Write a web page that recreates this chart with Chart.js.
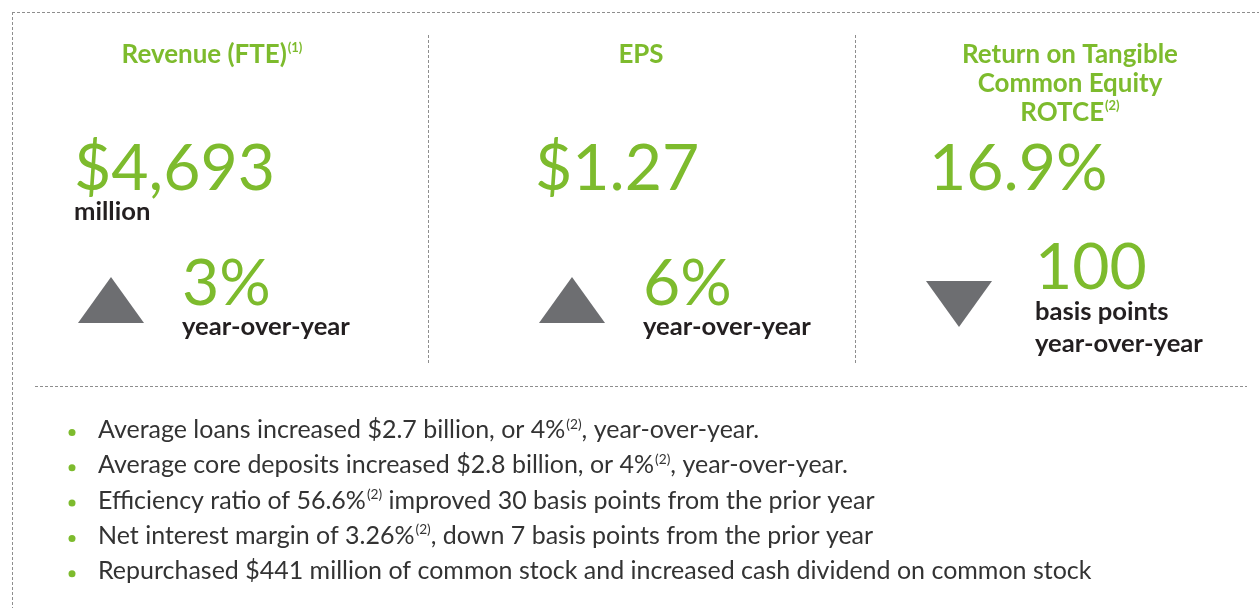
<!DOCTYPE html>
<html>
<head>
<meta charset="utf-8">
<script src="https://cdn.jsdelivr.net/npm/chart.js@4/dist/chart.umd.min.js"></script>
<style>
  html, body { margin: 0; padding: 0; background: #ffffff; }
  #wrap { width: 1259px; height: 608px; }
</style>
</head>
<body>
<div id="wrap"><canvas id="c" width="1259" height="608"></canvas></div>
<script>
// ---------- DATA ----------
const metricTitles = [["Revenue (FTE)"], ["EPS"], ["Return on Tangible", "Common Equity", "ROTCE"]];
const titleNotes = ["(1)", "", "(2)"];
const metricValues = ["$4,693", "$1.27", "16.9%"];
const valueUnits = ["million", "", ""];
const changeValues = ["3%", "6%", "100"];
const changeUnits = [["year-over-year"], ["year-over-year"], ["basis points", "year-over-year"]];
const changeDirections = ["up", "up", "down"];
const bulletTexts = [
  "Average loans increased $2.7 billion, or 4%{(2)}, year-over-year.",
  "Average core deposits increased $2.8 billion, or 4%{(2)}, year-over-year.",
  "Efficiency ratio of 56.6%{(2)} improved 30 basis points from the prior year",
  "Net interest margin of 3.26%{(2)}, down 7 basis points from the prior year",
  "Repurchased $441 million of common stock and increased cash dividend on common stock"
];

// ---------- LAYOUT / STYLE ----------
const GREEN = "#7dbb2d";
const DARK = "#231f20";
const BODY = "#333333";
const TRI = "#6d6e71";
const DASH = "#8e8e8e";
const FONT = "Lato, 'Open Sans', sans-serif";
const VALUE_WEIGHT = "400";

const layout = {
  titleCenterX: [212, 641, 1070],
  titleBaseY: 63, titleLineH: 29,
  valueX: [74, 535, 929], valueBaseY: 190,
  unitBaseY: 220,
  triX: [111, 572, 959], triY: [300, 300, 304], triW: 66, triH: 46,
  changeX: [182, 643, 1035], changeBaseY: [305, 305, 289],
  changeUnitBaseY: [[335], [335], [320, 352]],
  bulletDotX: 72, bulletTextX: 98, bulletBaseY: 438, bulletLineH: 35.3,
  fit: { title: ["Return on Tangible", 216], value: ["$4,693", 201], label: ["year-over-year", 168], body: ["Repurchased $441 million of common stock and increased cash dividend on common stock", 994] }
};

function makeTriangle(dir) {
  const cv = document.createElement("canvas");
  cv.width = layout.triW; cv.height = layout.triH;
  const g = cv.getContext("2d");
  g.fillStyle = TRI;
  g.beginPath();
  if (dir === "up") {
    g.moveTo(cv.width / 2, 0); g.lineTo(cv.width, cv.height); g.lineTo(0, cv.height);
  } else {
    g.moveTo(0, 0); g.lineTo(cv.width, 0); g.lineTo(cv.width / 2, cv.height);
  }
  g.closePath(); g.fill();
  return cv;
}
const triUp = makeTriangle("up");
const triDown = makeTriangle("down");

const triPoints = changeDirections.map((d, i) => ({ x: layout.triX[i], y: layout.triY[i] }));
const dotPoints = bulletTexts.map((t, i) => ({ x: layout.bulletDotX, y: layout.bulletBaseY + i * layout.bulletLineH - 5.5 }));

const measureCtx = document.createElement("canvas").getContext("2d");
function fitSize(weight, text, target) {
  measureCtx.font = weight + " 100px " + FONT;
  return 100 * target / measureCtx.measureText(text).width;
}

const infoPlugin = {
  id: "info",
  beforeDatasetsDraw(chart) {
    const { ctx, scales: { x, y } } = chart;
    const px = v => x.getPixelForValue(v), py = v => y.getPixelForValue(v);
    ctx.save();
    ctx.strokeStyle = DASH; ctx.lineWidth = 1; ctx.setLineDash([3, 2]);
    const seg = (x1, y1, x2, y2) => { ctx.beginPath(); ctx.moveTo(px(x1), py(y1)); ctx.lineTo(px(x2), py(y2)); ctx.stroke(); };
    seg(12, 12.5, 1259, 12.5);
    seg(12.5, 12, 12.5, 608);
    seg(428.5, 35, 428.5, 363);
    seg(855.5, 35, 855.5, 363);
    seg(35, 386.5, 1247, 386.5);
    ctx.restore();
  },
  afterDatasetsDraw(chart) {
    const { ctx, scales: { x, y } } = chart;
    const px = v => x.getPixelForValue(v), py = v => y.getPixelForValue(v);
    const fs = {};
    for (const k in layout.fit) {
      const w = (k === "value") ? VALUE_WEIGHT : (k === "body" ? "400" : "700");
      fs[k] = fitSize(w, layout.fit[k][0], layout.fit[k][1]);
    }
    ctx.save();
    ctx.textBaseline = "alphabetic";
    // titles
    metricTitles.forEach((lines, i) => {
      lines.forEach((line, j) => {
        const last = j === lines.length - 1;
        const note = last ? titleNotes[i] : "";
        ctx.font = "700 " + fs.title + "px " + FONT;
        const wMain = ctx.measureText(line).width;
        ctx.font = "700 " + (fs.title * 0.5) + "px " + FONT;
        const wNote = note ? ctx.measureText(note).width + 1 : 0;
        const startX = px(layout.titleCenterX[i]) - (wMain + wNote) / 2;
        const by = py(layout.titleBaseY + j * layout.titleLineH);
        ctx.fillStyle = GREEN; ctx.textAlign = "left";
        ctx.font = "700 " + fs.title + "px " + FONT;
        ctx.fillText(line, startX, by);
        if (note) {
          ctx.font = "700 " + (fs.title * 0.5) + "px " + FONT;
          ctx.fillText(note, startX + wMain + 1, by - fs.title * 0.42);
        }
      });
    });
    // values
    metricValues.forEach((v, i) => {
      ctx.font = VALUE_WEIGHT + " " + fs.value + "px " + FONT;
      ctx.fillStyle = GREEN; ctx.textAlign = "left";
      ctx.fillText(v, px(layout.valueX[i]), py(layout.valueBaseY));
      if (valueUnits[i]) {
        ctx.font = "700 " + fs.label + "px " + FONT;
        ctx.fillStyle = DARK;
        ctx.fillText(valueUnits[i], px(layout.valueX[i]), py(layout.unitBaseY));
      }
    });
    // changes
    changeValues.forEach((v, i) => {
      ctx.font = VALUE_WEIGHT + " " + fs.value + "px " + FONT;
      ctx.fillStyle = GREEN; ctx.textAlign = "left";
      ctx.fillText(v, px(layout.changeX[i]), py(layout.changeBaseY[i]));
      changeUnits[i].forEach((u, j) => {
        ctx.font = "700 " + fs.label + "px " + FONT;
        ctx.fillStyle = DARK;
        ctx.fillText(u, px(layout.changeX[i]), py(layout.changeUnitBaseY[i][j]));
      });
    });
    // bullets
    bulletTexts.forEach((t, i) => {
      const by = py(layout.bulletBaseY + i * layout.bulletLineH);
      let cx = px(layout.bulletTextX);
      const parts = t.split(/(\{[^}]*\})/).filter(s => s.length);
      parts.forEach(p => {
        ctx.fillStyle = BODY; ctx.textAlign = "left";
        if (p.startsWith("{")) {
          const s = p.slice(1, -1);
          ctx.font = "400 " + (fs.body * 0.55) + "px " + FONT;
          ctx.fillText(s, cx + 1, by - fs.body * 0.38);
          cx += ctx.measureText(s).width + 1;
        } else {
          ctx.font = "400 " + fs.body + "px " + FONT;
          ctx.fillText(p, cx, by);
          cx += ctx.measureText(p).width;
        }
      });
    });
    ctx.restore();
  }
};

new Chart(document.getElementById("c"), {
  type: "scatter",
  data: {
    datasets: [
      {
        label: "Direction",
        data: triPoints,
        pointStyle: ctx => changeDirections[ctx.dataIndex] === "up" ? triUp : triDown,
        pointRadius: 30, pointHoverRadius: 30,
        clip: false
      },
      {
        label: "Bullets",
        data: dotPoints,
        pointStyle: "circle",
        pointRadius: 3.5, pointHoverRadius: 3.5,
        backgroundColor: GREEN, borderColor: GREEN, borderWidth: 0,
        clip: false
      }
    ]
  },
  options: {
    responsive: false,
    devicePixelRatio: 1,
    animation: false,
    events: [],
    layout: { padding: 0, autoPadding: false },
    plugins: { legend: { display: false }, tooltip: { enabled: false } },
    scales: {
      x: { type: "linear", min: 0, max: 1259, display: false },
      y: { type: "linear", min: 0, max: 608, reverse: true, display: false }
    }
  },
  plugins: [infoPlugin]
});
</script>
</body>
</html>
